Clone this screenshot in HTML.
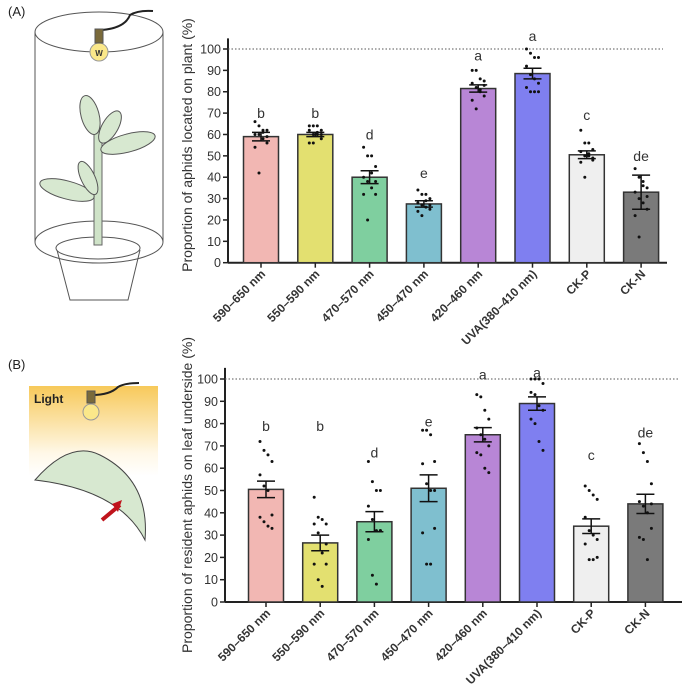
<!DOCTYPE html>
<html><head><meta charset="utf-8"><style>
body{margin:0;background:#fff;}
svg{display:block;font-family:"Liberation Sans",sans-serif;}
</style></head><body>
<svg id="fig" width="691" height="695" viewBox="0 0 691 695" xmlns="http://www.w3.org/2000/svg">
<defs>
<linearGradient id="lg" x1="0" y1="0" x2="0" y2="1"><stop offset="0" stop-color="#f7c95a"/><stop offset="0.75" stop-color="#fff8e8"/><stop offset="1" stop-color="#fff"/></linearGradient>
</defs>
<g fill="none" stroke="#555" stroke-width="1">
<text x="8" y="16" font-size="13" fill="#222" stroke="none">(A)</text>
<ellipse cx="99" cy="32" rx="64" ry="20"/>
<line x1="35" y1="32" x2="35" y2="242"/><line x1="163" y1="32" x2="163" y2="242"/>
<ellipse cx="99" cy="242" rx="64" ry="21"/>
<path d="M102 30 Q125 28 130 15 Q138 10 153 11" stroke="#222" stroke-width="2"/>
<circle cx="99" cy="52" r="9" fill="#fbe88a" stroke="#999"/>
<rect x="95" y="29" width="8" height="14" fill="#7a6a3a" stroke="#555"/>
<text x="99" y="56" font-size="8" font-weight="bold" fill="#333" stroke="none" text-anchor="middle">W</text>
<path d="M57 250 L70 300 L128 300 L140 250"/>
<ellipse cx="98" cy="248" rx="42" ry="11" fill="#fff"/>
<rect x="94" y="130" width="8" height="115" fill="#cfe3c8" stroke="#666"/>
<ellipse cx="90" cy="115" rx="9" ry="20" fill="#d7e8d0" transform="rotate(-15 90 115)"/>
<ellipse cx="110" cy="127" rx="8" ry="18" fill="#d7e8d0" transform="rotate(30 110 127)"/>
<ellipse cx="128" cy="143" rx="28" ry="9" fill="#d7e8d0" transform="rotate(-15 128 143)"/>
<ellipse cx="67" cy="190" rx="28" ry="9" fill="#d7e8d0" transform="rotate(15 67 190)"/>
<ellipse cx="88" cy="178" rx="7" ry="18" fill="#d7e8d0" transform="rotate(-25 88 178)"/>
</g>
<g fill="none" stroke="#555">
<text x="8" y="369" font-size="13" fill="#222" stroke="none">(B)</text>
<rect x="29" y="386" width="129" height="90" fill="url(#lg)" stroke="none"/>
<text x="34" y="403" font-size="12" font-weight="bold" fill="#222" stroke="none">Light</text>
<path d="M92 395 Q110 395 118 387 Q125 383 139 383" stroke="#222" stroke-width="2"/>
<circle cx="91" cy="412" r="8" fill="#fbe88a" stroke="#999"/>
<rect x="87" y="391" width="8" height="12" fill="#7a6a3a"/>
<path d="M35 480 Q70 440 100 455 Q150 480 145 540 Q120 490 35 480Z" fill="#d7e8d0" stroke="#444"/>
<path d="M120 505 L102 520" stroke="#c0141c" stroke-width="4"/>
<path d="M122 500 L112 504 L118 512Z" fill="#c0141c" stroke="none"/>
</g>
<g id="chartA"></g>
<g id="chartB"></g>
</svg>
<script>
const categories=["590–650 nm","550–590 nm","470–570 nm","450–470 nm","420–460 nm","UVA(380–410 nm)","CK-P","CK-N"];
const colors=["#f2b7b3","#e3e070","#7fcf9f","#7fbfcf","#b886d6","#7f7ff0","#efefef","#7a7a7a"];
const yTicks=[0,10,20,30,40,50,60,70,80,90,100];
const meansA=[59,60,40,27.5,81.5,88.5,50.5,33];
const seA=[2,1,3,1.5,1.7,2.5,1.8,8];
const lettersA=["b","b","d","e","a","a","c","de"];
const letterPosA=[70,70,60,42,97,106,69,50];
const pointsA=[[66,64,62,62,60,60,58,56,54,42,61,59],[64,64,64,62,62,60,60,58,56,56,61,60],[54,50,50,45,40,38,35,32,32,20,42,38],[34,32,32,30,28,27,26,25,24,22,29,27],[90,90,86,85,84,82,80,78,76,72,81,83],[100,98,96,96,92,88,86,84,82,80,80,80],[62,56,56,53,52,50,50,48,47,40,51,49],[44,40,38,35,33,30,28,25,22,12,36,31]];
const meansB=[50.5,26.5,36,51,75,89,34,44];
const seB=[3.7,3.5,4.5,6,3.2,3,3.3,4.3];
const lettersB=["b","b","d","e","a","a","c","de"];
const letterPosB=[79,79,67,81,102,103,66,76];
const pointsB=[[72,68,66,63,57,52,50,39,38,36,34,33],[47,38,37,35,35,31,22,17,17,10,7,26],[63,54,50,50,43,37,32,32,28,12,8,32],[77,77,75,63,62,53,50,33,31,17,17,50],[93,92,86,82,78,75,73,70,67,66,60,58],[100,100,100,98,94,93,88,86,82,80,72,68],[52,50,48,46,38,32,30,28,26,19,19,20],[71,67,63,53,45,43,40,33,29,28,19,44]];
const NS="http://www.w3.org/2000/svg";
function mk(p,t,a){const e=document.createElementNS(NS,t);for(const k in a)e.setAttribute(k,a[k]);p.appendChild(e);return e;}
function draw(g,cfg,means,se,letters,letterPos,points){
 const y=v=>cfg.y0-(cfg.y0-cfg.y100)*v/100;
 const x=i=>cfg.x0+i*cfg.step;
 const ax=mk(g,'line',{x1:cfg.ax,y1:cfg.y0,x2:cfg.axEnd,y2:cfg.y0,stroke:'#222','stroke-width':2});
 
 const ay=mk(g,'line',{x1:cfg.ax,y1:cfg.y0,x2:cfg.ax,y2:y(105),stroke:'#222','stroke-width':2});
 
 const ref=mk(g,'line',{x1:cfg.ax,y1:y(100),x2:cfg.axEnd-4,y2:y(100),stroke:'#555','stroke-width':1,'stroke-dasharray':'1.5 2'});
 
 yTicks.forEach(t=>{
  const tk=mk(g,'line',{x1:cfg.ax-5,y1:y(t),x2:cfg.ax,y2:y(t),stroke:'#222','stroke-width':1.5});
  
  const tl=mk(g,'text',{x:cfg.ax-7,y:y(t)+4.5,'font-size':12.5,'text-anchor':'end',fill:'#333'});
  tl.textContent=t;
 });
 const yt=mk(g,'text',{x:0,y:0,'font-size':14,'text-anchor':'middle',fill:'#333',transform:`translate(${cfg.titleX},${cfg.titleY}) rotate(-90)`});
 yt.textContent=cfg.title;
 categories.forEach((c,i)=>{
  const cx=x(i),w=35;
  const b=mk(g,'rect',{x:cx-w/2,y:y(means[i]),width:w,height:y(0)-y(means[i]),fill:colors[i],stroke:'#333','stroke-width':1.5});
  
  const e1=mk(g,'path',{d:`M${cx} ${y(means[i]+se[i])}V${y(means[i]-se[i])}M${cx-9} ${y(means[i]+se[i])}H${cx+9}M${cx-9} ${y(means[i]-se[i])}H${cx+9}`,stroke:'#111','stroke-width':1.5,fill:'none'});
  
  points[i].forEach((v,j)=>{
   const off=((j%4)-1.5)*4;
   const p=mk(g,'circle',{cx:cx+off,cy:y(v),r:1.5,fill:'#111'});
   
  });
  const l=mk(g,'text',{x:cx,y:y(letterPos[i])+5,'font-size':14,'text-anchor':'middle',fill:'#333'});
  l.textContent=letters[i];
  const tk=mk(g,'line',{x1:cx,y1:cfg.y0,x2:cx,y2:cfg.y0+5,stroke:'#222','stroke-width':1.5});
  
  const cl=mk(g,'text',{x:0,y:0,'font-size':12,'font-weight':'bold','text-anchor':'end',fill:'#333',transform:`translate(${cx+5},${cfg.y0+12}) rotate(-45)`});
  cl.textContent=c;
 });
}
draw(document.getElementById('chartA'),{y0:262.7,y100:49,x0:261,step:54.3,ax:228,axEnd:667,title:"Proportion of aphids located on plant (%)",titleX:192,titleY:145},meansA,seA,lettersA,letterPosA,pointsA);
draw(document.getElementById('chartB'),{y0:602,y100:379,x0:266,step:54.2,ax:225,axEnd:682,title:"Proportion of resident aphids on leaf underside (%)",titleX:192,titleY:495},meansB,seB,lettersB,letterPosB,pointsB);
</script>
</body></html>
